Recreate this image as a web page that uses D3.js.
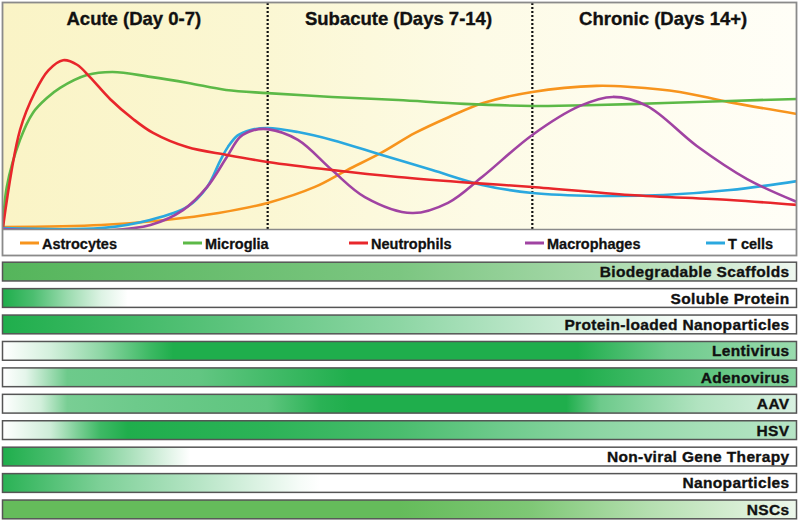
<!DOCTYPE html>
<html>
<head>
<meta charset="utf-8">
<script src="https://cdn.jsdelivr.net/npm/d3@7/dist/d3.min.js"></script>
<style>
  html, body { margin: 0; padding: 0; background: #ffffff; }
  svg { display: block; font-family: "Liberation Sans", Arial, sans-serif; }
</style>
</head>
<body>
<svg id="chart" width="800" height="521"></svg>
<script>
// ---------- DATA ----------
const phaseLabels = ["Acute (Day 0-7)", "Subacute (Days 7-14)", "Chronic (Days 14+)"];
const phaseBounds = [0, 7, 14, 21];

const cellTypes = ["Astrocytes", "Microglia", "Neutrophils", "Macrophages", "T cells"];

// [day, relative level]
const astrocytes = [[0,0.9],[2.6,1.8],[4.3,4],[5.7,7.1],[7,11.6],[8.25,18.7],[9.1,26.2],[10,33.8],[10.9,42.7],[11.8,49.8],[12.7,56],[14,60.9],[15.7,63.6],[16.6,63.1],[17.9,60.9],[19.2,56.4],[21,51.1]];
const microglia = [[0,0.4],[0.1,18.7],[0.45,39.6],[0.79,51.6],[1.16,58.2],[1.51,62.7],[2.22,68.4],[2.9,69.8],[3.9,67.6],[4.9,64.9],[5.9,61.8],[7,60.4],[8.7,58.7],[10.45,57.3],[12.2,55.6],[14,54.7],[15.7,55.1],[17.5,56],[19.2,56.9],[21,57.8]];
const neutrophils = [[0,0.9],[0.45,44],[0.85,61],[1.2,70.5],[1.59,75],[1.96,73],[2.3,67.5],[2.83,57.8],[3.44,48.9],[3.97,42.7],[4.87,36.4],[5.92,32.9],[7,29.8],[8.7,26.2],[10.45,23.1],[12.48,20.4],[14,18.7],[16.58,15.1],[19.23,12.9],[21,10.7]];
const macrophages = [[0,0],[2.6,-0.8],[3.9,1.8],[4.76,8.4],[5.4,18.7],[5.92,32],[6.27,40.9],[6.6,43.8],[7,44.4],[7.8,39.6],[8.7,26.2],[9.57,14.2],[10.82,7.1],[11.77,11.6],[12.67,23.1],[14,41.8],[15.26,54.7],[16.13,58.7],[17.03,54.7],[18.35,36.9],[19.68,22.2],[21,12]];
const tCells = [[0,0.4],[2.6,0.4],[3.89,4],[4.87,9.8],[5.4,18.7],[5.74,30.2],[5.95,36.5],[6.2,41.5],[6.55,44],[7,44.9],[7.8,43.1],[8.7,39.6],[10.02,32.9],[11.35,26.2],[12.67,19.6],[14,16],[15.71,14.7],[17.46,15.1],[19.23,17.3],[21,21.3]];

const therapies = ["Biodegradable Scaffolds", "Soluble Protein", "Protein-loaded Nanoparticles", "Lentivirus", "Adenovirus", "AAV", "HSV", "Non-viral Gene Therapy", "Nanoparticles", "NSCs"];

// [day, intensity 0..1] of each therapy's effective window
const scaffoldsProfile   = [[0,1],[10.5,0.77],[15.75,0.51],[18.9,0.28],[21,0.09]];
const solubleProfile     = [[0,1],[0.8,0.8],[1.7,0.45],[2.6,0.15],[3.3,0],[21,0]];
const proteinNpProfile   = [[0,1],[5.25,0.76],[10.5,0.51],[15.75,0.18],[17.9,0.04],[19,0],[21,0]];
const lentivirusProfile  = [[0,0],[1.24,0.19],[2.57,0.5],[3.9,0.87],[4.5,1],[15.2,1],[17.56,0.65],[21,0.45]];
const adenovirusProfile  = [[0,0],[0.6,0.12],[1.7,0.65],[5.2,0.7],[9.2,1],[15.2,1],[21,0.53]];
const aavProfile         = [[0,0],[1.0,0.2],[1.7,0.6],[3.5,0.65],[7,0.72],[8.4,0.95],[9.2,1],[14.9,1],[15.8,0.65],[18.4,0.35],[21,0.17]];
const hsvProfile         = [[0,0],[1.25,0.22],[2.0,0.6],[2.57,0.86],[3.3,1],[7,0.94],[10.5,0.81],[13.1,0.65],[15.8,0.51],[18.4,0.4],[21,0.32]];
const nonViralProfile    = [[0,1],[1.5,0.79],[3.36,0.38],[4.95,0],[21,0]];
const nanoparticleProfile= [[0,0.95],[2.57,0.58],[5.2,0.32],[7.86,0.04],[8.4,0],[21,0]];
const nscProfile         = [[0,1],[10.5,1],[13.9,0.84],[17.1,0.48],[19.8,0.23],[21,0.12]];

// ---------- LAYOUT / STYLE ----------
const svg = d3.select("#chart");
const plotLeft = 3, plotRight = 797, plotTop = 3, plotBottom = 229;

const x = d3.scaleLinear().domain([0, 21]).range([plotLeft, plotRight]);
const y = d3.scaleLinear().domain([0, 100]).range([plotBottom, 4]);

const seriesData = [astrocytes, microglia, neutrophils, macrophages, tCells];
const seriesColors = ["#f7941d", "#5cb947", "#e8262b", "#a043a2", "#2aa8df"];
const profiles = [scaffoldsProfile, solubleProfile, proteinNpProfile, lentivirusProfile, adenovirusProfile, aavProfile, hsvProfile, nonViralProfile, nanoparticleProfile, nscProfile];
const baseGreens = ["#55b55b", "#1fae4c", "#1fae4c", "#1fae4c", "#1fae4c", "#1fae4c", "#1fae4c", "#1fae4c", "#1fae4c", "#65bc5b"];

const defs = svg.append("defs");

// plot background gradient
const bg = defs.append("linearGradient").attr("id", "bgGrad")
  .attr("x1", "0%").attr("x2", "100%").attr("y1", "0%").attr("y2", "0%");
bg.append("stop").attr("offset", "0%").attr("stop-color", "#faf4c6");
bg.append("stop").attr("offset", "33%").attr("stop-color", "#fbf7d3");
bg.append("stop").attr("offset", "60%").attr("stop-color", "#fdfbe6");
bg.append("stop").attr("offset", "100%").attr("stop-color", "#fffef7");

defs.append("clipPath").attr("id", "plotClip")
  .append("rect").attr("x", plotLeft).attr("y", plotTop)
  .attr("width", plotRight - plotLeft).attr("height", plotBottom - plotTop);

svg.append("rect").attr("x", plotLeft).attr("y", plotTop)
  .attr("width", plotRight - plotLeft).attr("height", plotBottom - plotTop)
  .attr("fill", "url(#bgGrad)");

// phase dividers
svg.append("g").selectAll("line")
  .data(phaseBounds.slice(1, -1))
  .join("line")
  .attr("x1", d => x(d)).attr("x2", d => x(d))
  .attr("y1", plotTop).attr("y2", plotBottom)
  .attr("stroke", "#111").attr("stroke-width", 2.2)
  .attr("stroke-dasharray", "2,2");

// phase titles
svg.append("g").selectAll("text")
  .data(phaseLabels)
  .join("text")
  .attr("x", (d, i) => x((phaseBounds[i] + phaseBounds[i + 1]) / 2) - 1.5)
  .attr("y", 25)
  .attr("text-anchor", "middle")
  .attr("font-weight", "bold")
  .attr("font-size", "18.5px")
  .attr("fill", "#111").attr("stroke", "#111").attr("stroke-width", 0.35)
  .text(d => d);

// curves
const line = d3.line()
  .x(d => x(d[0])).y(d => y(d[1]))
  .curve(d3.curveCatmullRom.alpha(0.5));

const drawOrder = [0, 1, 4, 3, 2];
svg.append("g").attr("clip-path", "url(#plotClip)")
  .selectAll("path")
  .data(drawOrder)
  .join("path")
  .attr("d", i => line(seriesData[i]))
  .attr("fill", "none")
  .attr("stroke", i => seriesColors[i])
  .attr("stroke-width", 2.6)
  .attr("stroke-linejoin", "round");

// axis baseline
svg.append("line").attr("x1", plotLeft).attr("x2", plotRight)
  .attr("y1", plotBottom + 0.5).attr("y2", plotBottom + 0.5)
  .attr("stroke", "#8a8a8a").attr("stroke-width", 1.5);

// outer box
svg.append("rect").attr("x", 2.5).attr("y", 2.5)
  .attr("width", 794).attr("height", 253)
  .attr("fill", "none").attr("stroke", "#8a8a8a").attr("stroke-width", 1.8);

// legend
const legendX = [20, 183, 349, 525, 706];
const legendY = 243;
const lg = svg.append("g").selectAll("g")
  .data(cellTypes)
  .join("g")
  .attr("transform", (d, i) => `translate(${legendX[i]},${legendY})`);
lg.append("line").attr("x1", 0).attr("x2", 19).attr("y1", 0).attr("y2", 0)
  .attr("stroke", (d, i) => seriesColors[i]).attr("stroke-width", 3);
lg.append("text").attr("x", 22).attr("y", 5.5)
  .attr("font-weight", "bold").attr("font-size", "14.5px")
  .attr("fill", "#111").attr("stroke", "#111").attr("stroke-width", 0.3)
  .text(d => d);

// therapy bars
const barX0 = 2.5, barX1 = 796.5, barW = barX1 - barX0;
const band = d3.scaleBand().domain(therapies).range([258.5, 522.5]).paddingInner(0.29).paddingOuter(0.14);

therapies.forEach((t, i) => {
  const grad = defs.append("linearGradient").attr("id", "barGrad" + i)
    .attr("gradientUnits", "userSpaceOnUse")
    .attr("x1", barX0).attr("x2", barX1).attr("y1", 0).attr("y2", 0);
  const interp = d3.interpolateRgb("#ffffff", baseGreens[i]);
  profiles[i].forEach(p => {
    grad.append("stop")
      .attr("offset", ((x(p[0]) - barX0) / barW * 100).toFixed(2) + "%")
      .attr("stop-color", interp(p[1]));
  });
});

const bars = svg.append("g").selectAll("g")
  .data(therapies)
  .join("g");
bars.append("rect")
  .attr("x", barX0).attr("y", d => band(d))
  .attr("width", barW).attr("height", band.bandwidth())
  .attr("fill", (d, i) => `url(#barGrad${i})`)
  .attr("stroke", "#555").attr("stroke-width", 1.5);
bars.append("text")
  .attr("x", 789.5).attr("y", d => band(d) + band.bandwidth() / 2 + 5.5)
  .attr("text-anchor", "end")
  .attr("font-weight", "bold").attr("font-size", "15.5px")
  .attr("letter-spacing", "0.35px")
  .attr("fill", "#111").attr("stroke", "#111").attr("stroke-width", 0.35)
  .text(d => d);
</script>
</body>
</html>
